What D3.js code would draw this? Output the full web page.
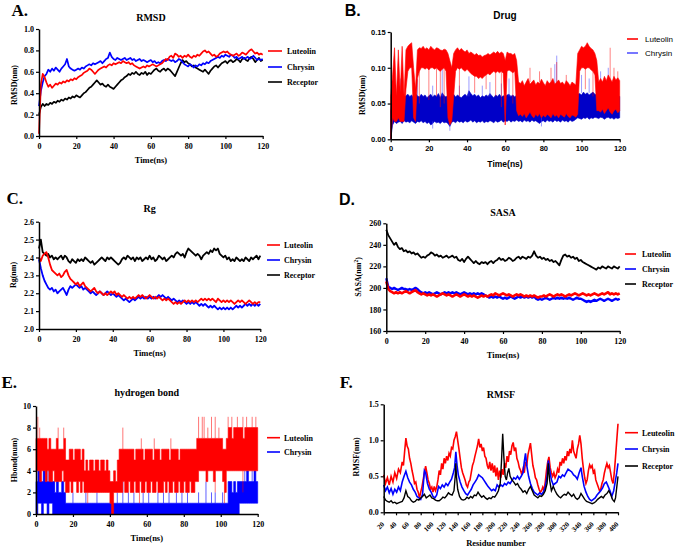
<!DOCTYPE html>
<html><head><meta charset="utf-8">
<script src="https://cdn.jsdelivr.net/npm/d3@7"></script>
<style>body{margin:0;background:#fff}svg{display:block}</style>
</head><body><svg id="c" width="676" height="548"></svg>
<script>
// ---------------- DATA ----------------
const timeNs = d3.range(0, 121); // 0..120 ns, 1 ns sampling
const timeTicks = [0, 20, 40, 60, 80, 100, 120];

// A. RMSD (nm)
const rmsdLuteolin = [0.02,0.48,0.58,0.55,0.50,0.46,0.48,0.45,0.47,0.49,
 0.48,0.50,0.49,0.51,0.50,0.52,0.51,0.53,0.52,0.54,
 0.53,0.55,0.56,0.57,0.59,0.60,0.61,0.63,0.62,0.60,
 0.58,0.60,0.62,0.63,0.64,0.65,0.64,0.66,0.67,0.66,
 0.68,0.67,0.68,0.69,0.68,0.70,0.69,0.68,0.69,0.67,
 0.68,0.66,0.65,0.64,0.63,0.64,0.65,0.64,0.66,0.65,
 0.66,0.67,0.66,0.65,0.66,0.67,0.68,0.70,0.72,0.71,
 0.74,0.75,0.73,0.77,0.76,0.74,0.75,0.73,0.75,0.74,
 0.76,0.74,0.73,0.75,0.74,0.76,0.75,0.77,0.79,0.80,
 0.78,0.79,0.77,0.75,0.76,0.74,0.75,0.77,0.78,0.79,
 0.78,0.79,0.77,0.76,0.75,0.76,0.77,0.75,0.76,0.78,
 0.77,0.76,0.78,0.80,0.81,0.79,0.77,0.78,0.76,0.77,0.76];
const rmsdChrysin = [0.28,0.42,0.50,0.56,0.58,0.62,0.60,0.63,0.61,0.64,
 0.62,0.60,0.63,0.65,0.67,0.72,0.65,0.63,0.62,0.61,
 0.62,0.63,0.62,0.64,0.63,0.65,0.66,0.67,0.66,0.68,
 0.67,0.68,0.69,0.70,0.68,0.70,0.72,0.73,0.78,0.74,
 0.72,0.71,0.73,0.72,0.71,0.72,0.73,0.71,0.72,0.73,
 0.71,0.72,0.70,0.71,0.72,0.70,0.71,0.70,0.69,0.70,
 0.71,0.69,0.70,0.68,0.69,0.68,0.70,0.71,0.70,0.72,
 0.71,0.70,0.71,0.69,0.70,0.72,0.71,0.69,0.67,0.66,
 0.65,0.67,0.66,0.64,0.66,0.65,0.67,0.66,0.68,0.67,
 0.69,0.68,0.70,0.71,0.72,0.73,0.74,0.73,0.75,0.74,
 0.76,0.75,0.74,0.76,0.75,0.73,0.74,0.72,0.73,0.74,
 0.72,0.73,0.74,0.72,0.73,0.75,0.73,0.71,0.72,0.71,0.72];
const rmsdReceptor = [0.20,0.27,0.30,0.28,0.30,0.29,0.31,0.30,0.32,0.31,
 0.33,0.32,0.34,0.33,0.35,0.34,0.36,0.35,0.37,0.36,
 0.38,0.37,0.36,0.38,0.40,0.41,0.43,0.45,0.46,0.48,
 0.50,0.52,0.50,0.48,0.49,0.47,0.46,0.48,0.46,0.45,
 0.44,0.46,0.48,0.50,0.52,0.53,0.55,0.56,0.58,0.57,
 0.59,0.58,0.60,0.58,0.57,0.59,0.58,0.60,0.57,0.59,
 0.58,0.60,0.62,0.63,0.61,0.60,0.62,0.63,0.61,0.63,
 0.62,0.60,0.58,0.56,0.60,0.64,0.68,0.71,0.69,0.70,
 0.68,0.67,0.65,0.66,0.64,0.63,0.62,0.61,0.60,0.62,
 0.60,0.58,0.61,0.63,0.65,0.66,0.64,0.66,0.68,0.69,
 0.70,0.68,0.70,0.71,0.69,0.70,0.72,0.71,0.69,0.72,
 0.73,0.71,0.70,0.73,0.74,0.72,0.69,0.71,0.73,0.70,0.71];

// B. Drug RMSD (nm): dense band low/high per ns
const drugLuteolinLo = [0.000,0.030,0.025,0.025,0.030,0.025,0.025,0.025,0.070,0.095,
 0.100,0.100,0.030,0.025,0.085,0.095,0.100,0.100,0.098,0.100,
 0.097,0.100,0.100,0.098,0.100,0.097,0.095,0.098,0.100,0.095,
 0.030,0.020,0.025,0.060,0.095,0.100,0.098,0.100,0.097,0.095,
 0.098,0.095,0.092,0.090,0.088,0.088,0.085,0.087,0.085,0.088,
 0.090,0.092,0.090,0.093,0.095,0.093,0.095,0.093,0.095,0.092,
 0.020,0.095,0.097,0.095,0.093,0.095,0.040,0.033,0.035,0.032,
 0.036,0.030,0.034,0.038,0.033,0.030,0.035,0.032,0.036,0.030,
 0.034,0.031,0.035,0.033,0.030,0.036,0.032,0.034,0.030,0.035,
 0.033,0.031,0.036,0.032,0.030,0.034,0.033,0.031,0.035,0.095,
 0.100,0.100,0.098,0.100,0.100,0.097,0.095,0.090,0.040,0.040,
 0.038,0.042,0.036,0.040,0.044,0.038,0.035,0.040,0.042,0.037,0.040];
const drugLuteolinHi = [0.060,0.090,0.128,0.060,0.125,0.065,0.130,0.060,0.125,0.130,
 0.133,0.135,0.100,0.070,0.125,0.128,0.127,0.130,0.126,0.128,
 0.125,0.130,0.127,0.125,0.128,0.127,0.125,0.124,0.126,0.125,
 0.120,0.110,0.100,0.120,0.125,0.128,0.124,0.127,0.124,0.122,
 0.125,0.120,0.122,0.120,0.118,0.120,0.117,0.118,0.115,0.117,
 0.118,0.120,0.118,0.120,0.122,0.120,0.123,0.120,0.122,0.120,
 0.110,0.122,0.120,0.120,0.118,0.120,0.110,0.080,0.078,0.082,
 0.075,0.080,0.085,0.077,0.080,0.083,0.076,0.080,0.078,0.084,
 0.079,0.075,0.082,0.078,0.080,0.085,0.077,0.080,0.083,0.078,
 0.080,0.076,0.082,0.079,0.075,0.080,0.078,0.076,0.120,0.125,
 0.130,0.128,0.130,0.135,0.130,0.127,0.125,0.120,0.110,0.080,
 0.085,0.080,0.088,0.082,0.090,0.085,0.080,0.088,0.083,0.086,0.082];
const drugChrysinLo = [0.000,0.020,0.025,0.022,0.024,0.025,0.022,0.026,0.024,0.025,
 0.023,0.026,0.024,0.022,0.025,0.024,0.026,0.023,0.025,0.022,
 0.024,0.020,0.022,0.025,0.023,0.024,0.022,0.025,0.023,0.024,
 0.022,0.018,0.024,0.025,0.023,0.026,0.024,0.025,0.023,0.026,
 0.024,0.025,0.027,0.024,0.026,0.023,0.025,0.024,0.026,0.023,
 0.025,0.024,0.026,0.025,0.023,0.026,0.024,0.025,0.027,0.024,
 0.026,0.025,0.027,0.024,0.026,0.025,0.027,0.025,0.026,0.024,
 0.027,0.025,0.026,0.024,0.027,0.025,0.026,0.024,0.022,0.025,
 0.026,0.024,0.027,0.025,0.026,0.024,0.027,0.025,0.026,0.024,
 0.027,0.025,0.026,0.024,0.027,0.025,0.026,0.028,0.030,0.029,
 0.028,0.030,0.029,0.031,0.028,0.030,0.029,0.031,0.030,0.029,
 0.031,0.030,0.028,0.030,0.031,0.029,0.030,0.028,0.030,0.029,0.030];
const drugChrysinHi = [0.040,0.060,0.062,0.058,0.063,0.060,0.064,0.058,0.061,0.063,
 0.060,0.062,0.058,0.064,0.061,0.059,0.063,0.060,0.062,0.058,
 0.061,0.063,0.059,0.062,0.060,0.064,0.058,0.065,0.061,0.059,
 0.062,0.058,0.060,0.063,0.059,0.062,0.060,0.058,0.061,0.063,
 0.060,0.068,0.064,0.061,0.063,0.060,0.062,0.058,0.061,0.059,
 0.062,0.060,0.064,0.061,0.058,0.062,0.060,0.063,0.059,0.061,
 0.060,0.062,0.063,0.060,0.062,0.059,0.062,0.060,0.058,0.061,
 0.059,0.062,0.060,0.058,0.061,0.059,0.062,0.060,0.058,0.061,
 0.060,0.062,0.059,0.061,0.063,0.060,0.065,0.062,0.060,0.058,
 0.061,0.059,0.062,0.060,0.058,0.061,0.062,0.060,0.063,0.064,
 0.062,0.066,0.063,0.065,0.062,0.064,0.066,0.063,0.062,0.064,
 0.060,0.062,0.059,0.061,0.063,0.060,0.062,0.058,0.061,0.059,0.060];
// isolated excursions [time, from, to]
const drugLuteolinSpikes = [[15,0.05,0.1],[20,0.055,0.1],[24,0.06,0.1],[26,0.045,0.1],[28,0.05,0.1],[36,0.06,0.1],[44,0.065,0.09],[50,0.07,0.09],[55,0.06,0.095],[58,0.045,0.095],[64,0.05,0.095],[73,0.08,0.1],[78,0.08,0.095],[84,0.08,0.1],[87,0.08,0.108],[92,0.08,0.09],[102,0.07,0.1],[106,0.06,0.1],[115,0.08,0.128],[117,0.08,0.1],[119,0.08,0.095]];
const drugChrysinSpikes = [[5,0.06,0.085],[14,0.06,0.085],[22,0.06,0.075],[27,0.06,0.1],[36,0.06,0.075],[41,0.06,0.088],[48,0.06,0.075],[52,0.06,0.08],[58,0.06,0.078],[62,0.06,0.085],[86,0.07,0.105],[87,0.07,0.117],[100,0.065,0.09],[104,0.065,0.085],[110,0.065,0.095],[114,0.07,0.1],[22,0.015,0.025],[31,0.012,0.025],[79,0.018,0.03]];

// C. Rg (nm)
const rgLuteolin = [2.40,2.38,2.41,2.42,2.43,2.40,2.36,2.33,2.32,2.31,
 2.30,2.31,2.29,2.30,2.32,2.33,2.30,2.28,2.27,2.26,
 2.25,2.26,2.24,2.25,2.26,2.24,2.23,2.22,2.21,2.22,
 2.23,2.21,2.20,2.21,2.20,2.19,2.20,2.19,2.20,2.21,
 2.20,2.21,2.19,2.20,2.19,2.18,2.19,2.18,2.17,2.18,
 2.17,2.18,2.17,2.18,2.19,2.18,2.19,2.18,2.17,2.18,
 2.19,2.18,2.17,2.18,2.17,2.18,2.17,2.16,2.17,2.16,
 2.17,2.16,2.15,2.14,2.15,2.14,2.15,2.14,2.15,2.16,
 2.15,2.16,2.15,2.16,2.15,2.16,2.15,2.16,2.17,2.16,
 2.17,2.16,2.17,2.16,2.17,2.16,2.15,2.17,2.16,2.15,
 2.16,2.15,2.16,2.15,2.16,2.15,2.14,2.15,2.16,2.15,
 2.16,2.15,2.14,2.15,2.16,2.15,2.14,2.15,2.14,2.15,2.15];
const rgChrysin = [2.39,2.34,2.30,2.27,2.25,2.23,2.22,2.23,2.21,2.22,
 2.20,2.21,2.22,2.23,2.21,2.19,2.22,2.24,2.23,2.24,
 2.25,2.24,2.23,2.24,2.22,2.23,2.22,2.21,2.20,2.21,
 2.20,2.19,2.20,2.21,2.20,2.19,2.20,2.21,2.20,2.19,
 2.20,2.19,2.18,2.19,2.18,2.17,2.16,2.17,2.16,2.15,
 2.16,2.17,2.16,2.17,2.18,2.17,2.18,2.17,2.18,2.17,
 2.18,2.17,2.18,2.17,2.18,2.19,2.18,2.19,2.18,2.17,
 2.18,2.17,2.16,2.17,2.16,2.15,2.16,2.15,2.16,2.15,
 2.14,2.15,2.14,2.15,2.14,2.15,2.14,2.13,2.14,2.13,
 2.14,2.13,2.12,2.13,2.12,2.13,2.12,2.11,2.12,2.11,
 2.12,2.11,2.12,2.11,2.12,2.11,2.12,2.13,2.12,2.13,
 2.12,2.13,2.14,2.13,2.14,2.13,2.14,2.13,2.14,2.13,2.14];
const rgReceptor = [2.45,2.50,2.43,2.42,2.41,2.42,2.40,2.41,2.39,2.40,
 2.39,2.40,2.41,2.39,2.41,2.40,2.38,2.37,2.39,2.38,
 2.37,2.39,2.38,2.39,2.38,2.40,2.39,2.38,2.37,2.38,
 2.36,2.37,2.38,2.39,2.40,2.39,2.38,2.40,2.39,2.40,
 2.39,2.38,2.37,2.36,2.37,2.39,2.40,2.39,2.41,2.40,
 2.39,2.40,2.38,2.40,2.39,2.40,2.38,2.39,2.40,2.39,
 2.41,2.39,2.40,2.38,2.39,2.41,2.40,2.39,2.40,2.38,
 2.39,2.40,2.41,2.40,2.42,2.43,2.42,2.41,2.42,2.40,
 2.43,2.45,2.44,2.43,2.42,2.41,2.42,2.41,2.39,2.41,
 2.42,2.43,2.42,2.44,2.43,2.45,2.44,2.45,2.42,2.41,
 2.40,2.41,2.39,2.40,2.38,2.39,2.38,2.40,2.39,2.38,
 2.39,2.38,2.40,2.39,2.38,2.40,2.39,2.40,2.41,2.39,2.41];

// D. SASA (nm^2)
const sasaLuteolin = [206,199,197,196,195,196,195,196,195,196,
 197,196,195,196,197,198,196,195,194,195,
 194,193,194,193,194,193,192,193,194,195,
 194,193,194,193,192,193,194,193,192,193,
 194,193,192,193,192,193,192,191,192,193,
 192,193,192,193,194,193,195,194,193,194,
 195,194,193,194,193,192,193,194,193,194,
 193,192,193,192,193,192,193,192,191,192,
 192,193,192,193,194,193,192,193,194,193,
 194,193,192,193,194,193,194,195,194,193,
 194,195,194,193,194,193,194,195,194,193,
 194,195,194,195,196,194,195,194,195,194,195];
const sasaChrysin = [209,201,200,199,200,199,198,199,200,199,
 199,198,199,198,199,200,199,197,196,195,
 196,195,196,195,194,195,196,195,194,195,
 196,195,196,195,196,195,196,195,194,195,
 196,195,194,195,194,195,194,195,194,195,
 194,193,192,191,192,191,192,191,192,191,
 190,191,190,191,192,191,190,191,192,191,
 192,191,192,191,192,191,192,190,189,190,
 189,190,191,190,189,190,191,190,191,190,
 191,190,191,190,191,190,189,190,191,190,
 190,189,188,187,188,187,188,189,188,189,
 190,189,188,189,190,189,188,189,190,189,190];
const sasaReceptor = [254,249,246,243,240,242,238,236,237,234,
 235,233,234,232,233,231,232,230,228,229,
 228,230,231,233,232,230,231,229,230,228,
 229,230,228,229,230,228,229,226,225,227,
 224,227,229,227,225,223,225,223,222,224,
 223,224,222,224,225,223,225,226,228,226,
 227,225,226,228,227,225,226,228,229,227,
 229,228,227,229,228,230,234,230,228,229,
 227,228,226,227,225,226,224,225,223,221,
 226,230,231,229,230,228,229,227,228,225,
 226,224,223,222,221,220,219,218,217,219,
 218,220,219,218,220,219,218,220,219,218,220];

// E. Hydrogen bonds (count): band low/high per ns
const hbLuteolinLo = [4,4,3,4,4,3,4,3,3,4, 3,3,3,3,4,3,2,2,3,2, 3,3,2,3,2,3,2,2,2,2,
 2,2,2,2,2,2,2,2,2,2, 1,0,2,2,2,2,2,3,2,2, 3,2,2,3,2,2,3,2,2,3,
 2,2,3,2,2,3,2,2,2,3, 2,3,2,2,3,2,2,3,2,2, 3,2,2,3,2,2,3,3,4,4,
 4,4,3,4,4,4,3,4,4,4, 4,3,2,4,4,4,4,4,4,4, 4,4,4,4,4,4,4,4,4,4, 4];
const hbLuteolinHi = [7,7,7,7,7,7,6,7,6,6, 6,7,6,6,6,7,5,5,6,6, 5,6,6,6,5,6,4,5,4,5,
 5,4,5,5,4,5,5,4,5,4, 3,3,4,3,5,6,6,6,6,6, 6,6,6,5,6,6,6,6,5,6,
 6,6,6,5,6,6,6,5,6,6, 6,6,5,6,6,6,6,5,6,6, 6,6,6,6,6,6,6,7,7,7,
 7,7,7,7,7,7,7,7,7,7, 7,6,6,7,8,8,7,8,8,8, 8,8,7,8,8,8,8,8,8,8, 8];
const hbChrysinLo = [0,1,1,0,1,1,0,1,1,0, 0,0,0,0,0,0,0,0,0,0, 0,0,0,0,0,0,0,0,0,0,
 0,0,0,0,0,0,0,0,0,0, 0,0,0,0,0,0,0,0,0,0, 0,0,0,0,0,0,0,0,0,0,
 0,0,0,0,0,0,0,0,0,0, 0,0,0,0,0,0,0,0,0,0, 0,0,0,0,0,0,0,0,0,0,
 0,0,0,0,0,0,0,0,0,0, 0,0,0,0,0,0,0,0,0,0, 1,1,1,1,1,1,1,1,1,1, 1];
const hbChrysinHi = [3,4,3,3,4,3,3,4,3,3, 2,3,2,2,3,2,1,1,1,1, 1,1,1,1,1,1,1,1,1,1,
 1,1,1,1,1,1,1,1,1,1, 1,1,1,1,1,1,1,1,1,1, 1,1,1,1,1,1,1,1,1,1,
 1,1,1,1,1,1,1,1,1,1, 1,1,1,1,1,1,1,1,1,1, 1,1,1,1,1,1,1,1,1,1,
 1,1,1,1,1,1,1,1,1,1, 1,1,1,1,3,3,2,3,2,3, 3,3,3,3,4,3,3,3,4,3, 3];
const hbLuteolinSpikes = [[1,7,9],[2,7,8],[12,7,8],[15,7,8],[47,6,8],[57,6,7],[64,6,7],[73,6,7],[88,7,9],[90,7,9],[91,7,9],[93,7,8],[95,7,9],[97,7,9],[99,7,8],[104,8,9],[106,8,9],[109,8,9],[112,8,9],[114,8,9],[117,8,9],[119,8,9],[28,1,2],[41,0,2],[56,1,2],[97,2,4],[102,1,2],[112,2,4]];
const hbChrysinSpikes = [[2,3,4],[4,3,4],[6,3,4],[10,2,3],[12,2,4],[14,2,3],[20,1,2],[27,1,2],[33,1,2],[44,1,2],[47,1,3],[50,1,2],[53,1,2],[58,1,2],[61,1,2],[66,1,2],[69,1,2],[72,1,2],[76,1,2],[79,1,2],[82,1,2],[88,1,2],[92,1,3],[95,1,2],[97,1,2],[101,1,2],[113,3,4],[117,3,4]];

// F. RMSF (nm) per residue: [residue, value]
const rmsfLeuteolin = [[20,0.52],[23,0.40],[26,0.48],[29,0.38],[32,0.50],[35,0.42],[38,0.55],[41,0.47],[44,0.60],[47,0.55],[50,0.70],[52,0.65],[54,0.85],[56,1.03],[58,0.92],[60,0.88],[62,0.75],[64,0.68],[66,0.58],[68,0.50],[70,0.40],[72,0.42],[74,0.32],[76,0.28],[78,0.20],[80,0.28],[82,0.35],[84,0.45],[86,0.55],[88,0.64],[90,0.55],[92,0.45],[94,0.40],[96,0.32],[98,0.35],[100,0.28],[102,0.36],[104,0.30],[106,0.35],[108,0.45],[110,0.58],[112,0.52],[114,0.68],[116,0.60],[118,0.75],[120,0.68],[122,0.78],[124,0.72],[126,0.82],[128,0.78],[130,0.90],[132,0.88],[134,1.00],[136,1.05],[138,1.12],[140,1.00],[142,0.88],[144,0.75],[146,0.62],[148,0.55],[150,0.50],[152,0.45],[154,0.38],[156,0.35],[158,0.42],[160,0.45],[162,0.55],[164,0.65],[166,0.70],[168,0.78],[170,0.85],[172,0.92],[174,1.02],[176,0.90],[178,0.95],[180,0.85],[182,0.90],[184,0.78],[186,0.75],[188,0.65],[190,0.60],[192,0.70],[194,0.58],[196,0.68],[198,0.55],[200,0.65],[202,0.50],[204,0.62],[206,0.45],[208,0.58],[210,0.48],[212,0.60],[214,0.52],[216,0.68],[218,0.62],[220,0.78],[222,0.70],[224,0.85],[226,0.80],[228,0.92],[230,0.97],[232,0.85],[234,0.90],[236,0.75],[238,0.70],[240,0.62],[242,0.58],[244,0.52],[246,0.60],[248,0.55],[250,0.70],[252,0.65],[254,0.80],[256,0.88],[258,0.96],[260,0.80],[262,0.65],[264,0.58],[266,0.48],[268,0.45],[270,0.38],[272,0.32],[274,0.28],[276,0.30],[278,0.35],[280,0.30],[282,0.42],[284,0.58],[286,0.70],[288,0.77],[290,0.62],[292,0.55],[294,0.50],[296,0.55],[298,0.48],[300,0.52],[302,0.60],[304,0.55],[306,0.70],[308,0.65],[310,0.75],[312,0.68],[314,0.78],[316,0.72],[318,0.85],[320,0.78],[322,0.88],[324,0.82],[326,1.00],[328,0.85],[330,0.80],[332,0.75],[334,0.88],[336,0.95],[338,1.07],[340,0.95],[342,0.75],[344,0.60],[346,0.48],[348,0.40],[350,0.45],[352,0.58],[354,0.66],[356,0.62],[358,0.65],[360,0.55],[362,0.58],[364,0.45],[366,0.40],[368,0.35],[370,0.30],[372,0.32],[374,0.40],[376,0.45],[378,0.55],[380,0.62],[382,0.68],[384,0.62],[386,0.65],[388,0.55],[390,0.45],[392,0.40],[394,0.55],[396,0.77],[398,1.00],[400,1.23]];
const rmsfChrysin = [[20,0.38],[23,0.30],[26,0.35],[29,0.27],[32,0.33],[35,0.25],[38,0.32],[41,0.28],[44,0.35],[47,0.30],[50,0.42],[53,0.50],[56,0.57],[59,0.48],[62,0.42],[65,0.38],[68,0.32],[71,0.28],[74,0.22],[77,0.20],[80,0.18],[83,0.25],[86,0.58],[88,0.55],[91,0.40],[94,0.32],[97,0.28],[100,0.22],[103,0.20],[106,0.24],[109,0.36],[112,0.33],[115,0.38],[118,0.35],[121,0.40],[124,0.37],[127,0.42],[130,0.46],[133,0.55],[135,0.62],[137,0.84],[139,0.65],[141,0.52],[144,0.42],[147,0.35],[150,0.30],[153,0.26],[156,0.24],[159,0.28],[162,0.32],[165,0.38],[168,0.42],[171,0.46],[174,0.52],[177,0.50],[180,0.48],[183,0.44],[186,0.40],[189,0.36],[192,0.33],[195,0.30],[198,0.32],[201,0.30],[204,0.38],[207,0.35],[210,0.38],[213,0.36],[216,0.40],[219,0.38],[222,0.42],[225,0.40],[228,0.44],[231,0.48],[234,0.46],[237,0.50],[240,0.46],[243,0.50],[246,0.55],[248,0.70],[250,0.82],[252,0.65],[255,0.50],[258,0.40],[261,0.33],[264,0.28],[267,0.26],[270,0.24],[273,0.27],[276,0.25],[279,0.28],[282,0.35],[285,0.50],[287,0.72],[289,0.60],[292,0.45],[295,0.38],[298,0.40],[301,0.42],[304,0.50],[307,0.48],[310,0.52],[313,0.50],[316,0.55],[319,0.60],[322,0.58],[325,0.56],[328,0.52],[331,0.50],[334,0.46],[337,0.55],[340,0.62],[342,0.50],[345,0.36],[348,0.28],[351,0.22],[354,0.18],[357,0.16],[360,0.18],[363,0.20],[366,0.24],[369,0.27],[372,0.30],[375,0.34],[378,0.40],[381,0.42],[384,0.36],[387,0.30],[390,0.22],[393,0.30],[396,0.45],[398,0.55],[400,0.68]];
const rmsfReceptor = [[20,0.22],[23,0.17],[26,0.15],[29,0.14],[32,0.16],[35,0.13],[38,0.14],[41,0.12],[44,0.13],[47,0.14],[50,0.15],[53,0.20],[56,0.30],[59,0.22],[62,0.20],[65,0.16],[68,0.14],[71,0.15],[74,0.18],[77,0.17],[80,0.20],[83,0.22],[86,0.25],[89,0.20],[92,0.22],[95,0.24],[98,0.20],[101,0.19],[104,0.17],[107,0.16],[110,0.16],[113,0.18],[116,0.21],[119,0.20],[122,0.23],[125,0.27],[128,0.25],[131,0.24],[134,0.30],[136,0.50],[137,0.68],[138,0.50],[140,0.32],[143,0.22],[146,0.18],[149,0.17],[152,0.18],[155,0.21],[158,0.19],[161,0.22],[164,0.20],[167,0.24],[170,0.23],[173,0.28],[176,0.24],[179,0.21],[182,0.23],[185,0.20],[188,0.18],[191,0.20],[194,0.19],[197,0.22],[200,0.21],[203,0.25],[206,0.30],[209,0.40],[211,0.70],[213,1.09],[215,0.75],[217,0.50],[219,0.45],[221,0.55],[223,0.61],[225,0.50],[228,0.45],[231,0.42],[234,0.38],[237,0.40],[240,0.35],[243,0.32],[246,0.28],[249,0.30],[252,0.26],[255,0.32],[258,0.36],[261,0.30],[264,0.24],[267,0.22],[270,0.20],[273,0.23],[276,0.22],[279,0.25],[282,0.30],[285,0.40],[287,0.68],[289,0.45],[292,0.30],[295,0.36],[298,0.30],[301,0.25],[304,0.22],[307,0.20],[310,0.23],[313,0.25],[316,0.24],[319,0.28],[322,0.25],[325,0.22],[328,0.25],[331,0.20],[334,0.18],[337,0.20],[340,0.26],[343,0.22],[346,0.18],[349,0.15],[352,0.14],[355,0.13],[358,0.12],[361,0.13],[364,0.15],[367,0.18],[370,0.20],[373,0.22],[376,0.20],[379,0.24],[382,0.26],[385,0.30],[388,0.25],[391,0.18],[394,0.15],[396,0.20],[398,0.35],[400,0.50]];
const residueTicks = d3.range(20, 401, 20);

// ---------------- DRAWING ----------------
const svg = d3.select("#c");
const SERIF = "'Liberation Serif','Times New Roman',serif";
const SANS = "'Liberation Sans',Arial,sans-serif";
const RED = "#ff0000", BLUE = "#0000ff", BLACK = "#000000";

function txt(x, y, s, o) {
  const t = svg.append("text").attr("x", x).attr("y", y).text(s)
    .attr("font-family", o.font || SERIF).attr("font-weight", o.weight || "bold")
    .attr("font-size", o.size || 8).attr("fill", "#000")
    .attr("text-anchor", o.anchor || "middle");
  if (o.rotate) t.attr("transform", `rotate(-90,${x},${y})`);
  return t;
}

function panel(o) {
  const x = d3.scaleLinear().domain(o.xDomain).range([o.x0, o.x1]);
  const y = d3.scaleLinear().domain(o.yDomain).range([o.yBot, o.yTop]);
  const marks = svg.append("g");
  const tf = o.tickFont || SERIF, ts = o.tickSize || 8;
  const ax = svg.append("g").attr("transform", `translate(0,${o.yBot})`)
    .call(d3.axisBottom(x).tickValues(o.xTicks).tickSize(3).tickSizeOuter(0)
      .tickPadding(o.xPad != null ? o.xPad : 4).tickFormat(d3.format("d")));
  const ay = svg.append("g").attr("transform", `translate(${o.x0},0)`)
    .call(d3.axisLeft(y).tickValues(o.yTicks).tickSize(3).tickSizeOuter(0)
      .tickPadding(2).tickFormat(o.yFmt));
  [ax, ay].forEach(a => {
    a.select(".domain").attr("stroke", "#000").attr("stroke-width", 1.5);
    a.selectAll(".tick line").attr("stroke", "#000").attr("stroke-width", 1.2);
    a.selectAll("text").attr("font-family", tf).attr("font-weight", "bold")
      .attr("font-size", ts).attr("fill", "#000");
  });
  return { x, y, marks, ax, ay };
}

function legend(items, lx0, lx1, ys, tx, o) {
  items.forEach((it, i) => {
    svg.append("line").attr("x1", lx0).attr("x2", lx1).attr("y1", ys[i]).attr("y2", ys[i])
      .attr("stroke", it.c).attr("stroke-width", 1.6);
    svg.append("text").attr("x", tx).attr("y", ys[i]).attr("dy", "0.35em").text(it.n)
      .attr("font-family", o.font || SERIF).attr("font-weight", o.weight || "bold")
      .attr("font-size", o.size || 8).attr("fill", "#000");
  });
}

function drawLine(p, vals, color, w) {
  p.marks.append("path").datum(vals)
    .attr("d", d3.line().x((d, i) => p.x(timeNs[i])).y(d => p.y(d)))
    .attr("fill", "none").attr("stroke", color).attr("stroke-width", w).attr("stroke-linejoin", "round");
}
function drawBand(p, lo, hi, color, curve, op) {
  p.marks.append("path").datum(lo.map((d, i) => [timeNs[i], d, hi[i]]))
    .attr("d", d3.area().curve(curve || d3.curveLinear).x(d => p.x(d[0])).y0(d => p.y(d[1])).y1(d => p.y(d[2])))
    .attr("fill", color).attr("fill-opacity", op || 1).attr("stroke", color).attr("stroke-width", 0.6).attr("stroke-opacity", op || 1);
}
function drawSpikes(p, sp, color, op, w) {
  p.marks.selectAll(null).data(sp).enter().append("line")
    .attr("x1", d => p.x(d[0])).attr("x2", d => p.x(d[0]))
    .attr("y1", d => p.y(d[1])).attr("y2", d => p.y(d[2]))
    .attr("stroke", color).attr("stroke-opacity", op).attr("stroke-width", w || 0.9);
}

// ---- A. RMSD ----
const pA = panel({ x0: 39, x1: 262.7, yTop: 29, yBot: 136, xDomain: [0, 120], yDomain: [0, 1],
  xTicks: timeTicks, yTicks: [0, 0.2, 0.4, 0.6, 0.8, 1.0], yFmt: d3.format(".1f") });
drawLine(pA, rmsdReceptor, BLACK, 1.7);
drawLine(pA, rmsdChrysin, BLUE, 1.7);
drawLine(pA, rmsdLuteolin, RED, 1.7);
txt(11.5, 16, "A.", { size: 17, anchor: "start" });
txt(150.9, 21, "RMSD", { size: 10 });
txt(150.9, 163, "Time(ns)", { size: 8.5 });
txt(14, 85, "RMSD(nm)", { size: 8, rotate: true }).attr("dy", "0.35em");
legend([{ n: "Luteolin", c: RED }, { n: "Chrysin", c: BLUE }, { n: "Receptor", c: BLACK }], 268, 282, [51, 67, 82], 287, {});

// ---- B. Drug ----
const pB = panel({ x0: 390.7, x1: 619.7, yTop: 32, yBot: 139.3, xDomain: [0, 120], yDomain: [0, 0.15],
  xTicks: timeTicks, yTicks: [0, 0.05, 0.10, 0.15], yFmt: d3.format(".2f"), tickFont: SANS, tickSize: 7.5, xPad: 3 });
drawBand(pB, drugChrysinLo, drugChrysinHi, "#0000c8");
drawSpikes(pB, drugChrysinSpikes, "#4848ff", 0.6);
drawBand(pB, drugLuteolinLo, drugLuteolinHi, RED);
drawSpikes(pB, drugLuteolinSpikes, RED, 0.55);
txt(344.7, 16, "B.", { size: 16, font: SANS, anchor: "start" });
txt(505, 18.5, "Drug", { size: 10, font: SANS });
txt(505, 166.5, "Time(ns)", { size: 8.5, font: SANS });
txt(362, 95, "RMSD(nm)", { size: 8, rotate: true }).attr("dy", "0.35em");
legend([{ n: "Luteolin", c: RED }, { n: "Chrysin", c: "#5555ff" }], 627, 638, [39, 53], 645, { font: SANS, weight: "normal", size: 8 });

// ---- C. Rg ----
const pC = panel({ x0: 39, x1: 260.3, yTop: 221.7, yBot: 329, xDomain: [0, 120], yDomain: [2.0, 2.6],
  xTicks: timeTicks, yTicks: [2.0, 2.1, 2.2, 2.3, 2.4, 2.5, 2.6], yFmt: d3.format(".1f") });
drawLine(pC, rgReceptor, BLACK, 1.8);
drawLine(pC, rgChrysin, BLUE, 1.8);
drawLine(pC, rgLuteolin, RED, 1.8);
txt(6.5, 204, "C.", { size: 17, anchor: "start" });
txt(149.7, 212, "Rg", { size: 10 });
txt(149.7, 356, "Time(ns)", { size: 8.5 });
txt(13, 275, "Rg(nm)", { size: 8, rotate: true }).attr("dy", "0.35em");
legend([{ n: "Luteolin", c: RED }, { n: "Chrysin", c: BLUE }, { n: "Receptor", c: BLACK }], 267, 280, [245, 260, 275], 284, {});

// ---- D. SASA ----
const pD = panel({ x0: 386.3, x1: 619.7, yTop: 223.3, yBot: 331, xDomain: [0, 120], yDomain: [160, 260],
  xTicks: timeTicks, yTicks: [160, 180, 200, 220, 240, 260], yFmt: d3.format("d") });
drawLine(pD, sasaReceptor, BLACK, 1.8);
drawLine(pD, sasaChrysin, BLUE, 2.4);
drawLine(pD, sasaLuteolin, RED, 2.6);
txt(339, 205, "D.", { size: 16, font: SANS, anchor: "start" });
txt(503, 216, "SASA", { size: 10 });
txt(503, 357.5, "Time(ns)", { size: 8.5 });
{
  const t = txt(358.7, 277, "SASA(nm", { size: 8, rotate: true }).attr("dy", "0.35em");
  t.append("tspan").attr("baseline-shift", "super").attr("font-size", 5.5).text("2");
  t.append("tspan").text(")");
}
legend([{ n: "Luteolin", c: RED }, { n: "Chrysin", c: BLUE }, { n: "Receptor", c: BLACK }], 625, 636, [254, 269, 284], 642, {});

// ---- E. Hydrogen bond ----
const pE = panel({ x0: 36, x1: 257.7, yTop: 406, yBot: 514, xDomain: [0, 120], yDomain: [0, 10],
  xTicks: timeTicks, yTicks: [0, 2, 4, 6, 8, 10], yFmt: d3.format("d") });
drawBand(pE, hbChrysinLo, hbChrysinHi, BLUE, d3.curveStepAfter);
drawSpikes(pE, hbChrysinSpikes, BLUE, 0.7);
drawBand(pE, hbLuteolinLo, hbLuteolinHi, RED, d3.curveStepAfter);
drawSpikes(pE, hbLuteolinSpikes, RED, 0.6);
txt(1.5, 388, "E.", { size: 17, anchor: "start" });
txt(146.8, 396, "hydrogen bond", { size: 10 });
txt(146.8, 541, "Time(ns)", { size: 8.5 });
txt(14, 460, "Hbond(num)", { size: 8, rotate: true }).attr("dy", "0.35em");
legend([{ n: "Luteolin", c: RED }, { n: "Chrysin", c: BLUE }], 267, 280, [437.7, 452], 284, {});

// ---- F. RMSF ----
const pF = panel({ x0: 383.7, x1: 618, yTop: 404.3, yBot: 512.3, xDomain: [20, 400], yDomain: [0, 1.5],
  xTicks: residueTicks, yTicks: [0, 0.5, 1.0, 1.5], yFmt: d3.format(".1f") });
pF.ax.selectAll(".tick text").attr("text-anchor", "end").attr("dy", "0.3em").attr("dx", "-0.2em")
  .attr("font-size", 7)
  .attr("transform", function () { return "translate(0,3) rotate(-45,0," + d3.select(this).attr("y") + ")"; });
const fLine = d3.line().x(d => pF.x(d[0])).y(d => pF.y(d[1]));
pF.marks.append("path").datum(rmsfLeuteolin).attr("d", fLine).attr("fill", "none").attr("stroke", RED).attr("stroke-width", 1.6);
pF.marks.append("path").datum(rmsfChrysin).attr("d", fLine).attr("fill", "none").attr("stroke", BLUE).attr("stroke-width", 1.6);
pF.marks.append("path").datum(rmsfReceptor).attr("d", fLine).attr("fill", "none").attr("stroke", BLACK).attr("stroke-width", 1.4);
txt(339.7, 388, "F.", { size: 17, anchor: "start" });
txt(501, 398, "RMSF", { size: 10 });
txt(496, 546, "Residue number", { size: 8.5 });
txt(356, 457, "RMSF(nm)", { size: 8, rotate: true }).attr("dy", "0.35em");
legend([{ n: "Leuteolin", c: RED }, { n: "Chrysin", c: BLUE }, { n: "Receptor", c: BLACK }], 625, 638, [432.7, 449, 466], 642, {});
</script>
</body></html>
